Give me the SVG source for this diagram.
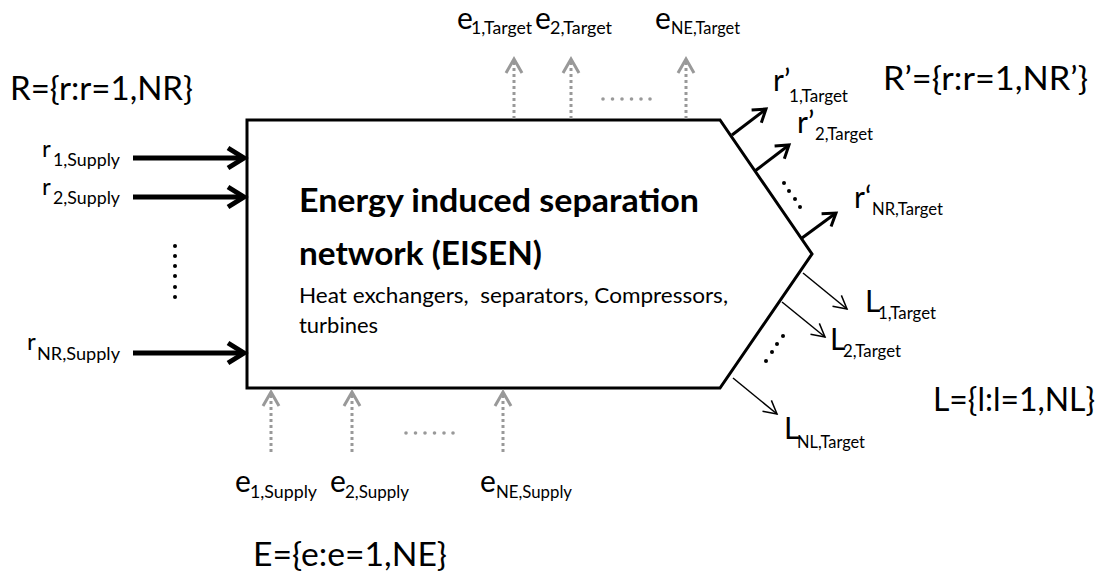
<svg xmlns="http://www.w3.org/2000/svg" width="1107" height="571" viewBox="0 0 1107 571">
<style>
text{font-family:Lato,"Open Sans","Liberation Sans",sans-serif;fill:#000}
.m{font-size:30px}
.ml{font-size:24px}
.s{font-size:18px}
.sl{font-size:17px}
.set{font-size:32px}
.t{font-size:33px;font-weight:bold}
.d{font-size:21px}
.thick{stroke:#000;stroke-width:5;fill:none}
.med{stroke:#000;stroke-width:3;fill:none}
.thin{stroke:#000;stroke-width:1.5;fill:none}
.gray{stroke:#999;stroke-width:3;fill:none;stroke-dasharray:3 3}
.dot{fill:#000}
.gdot{fill:#999}
</style>
<defs>
<marker id="hThick" markerUnits="userSpaceOnUse" orient="auto" refX="0" refY="0" markerWidth="40" markerHeight="40" overflow="visible"><path d="M-16,-10 L0,0 L-16,10" stroke="#000" stroke-width="5" fill="none"/></marker>
<marker id="hMed" markerUnits="userSpaceOnUse" orient="auto" refX="0" refY="0" markerWidth="40" markerHeight="40" overflow="visible"><path d="M-12,-8 L0,0 L-12,8" stroke="#000" stroke-width="3" fill="none"/></marker>
<marker id="hThin" markerUnits="userSpaceOnUse" orient="auto" refX="0" refY="0" markerWidth="40" markerHeight="40" overflow="visible"><path d="M-13,-7 L0,0 L-13,7" stroke="#000" stroke-width="1.5" fill="none"/></marker>
<marker id="hGray" markerUnits="userSpaceOnUse" orient="auto" refX="0" refY="0" markerWidth="40" markerHeight="40" overflow="visible"><path d="M-14,-8 L0,0 L-14,8" stroke="#999" stroke-width="3" fill="none"/></marker>
</defs>

<g id="eisen">
<path d="M247,120 H720 L812,254 L720,388 H247 Z" fill="#fff" stroke="#000" stroke-width="3" stroke-linejoin="miter"/>
<text class="t" x="299" y="212" textLength="400" lengthAdjust="spacingAndGlyphs">Energy induced separation</text>
<text class="t" x="299" y="265" textLength="243" lengthAdjust="spacingAndGlyphs">network (EISEN)</text>
<text class="d" x="299" y="303" textLength="429" lengthAdjust="spacingAndGlyphs" xml:space="preserve">Heat exchangers,  separators, Compressors,</text>
<text class="d" x="299" y="333" textLength="79" lengthAdjust="spacingAndGlyphs">turbines</text>
</g>

<g id="connectors">
<line class="thick" x1="133" y1="158" x2="244" y2="158" marker-end="url(#hThick)"/>
<line class="thick" x1="133" y1="197" x2="244" y2="197" marker-end="url(#hThick)"/>
<line class="thick" x1="133" y1="353" x2="244" y2="353" marker-end="url(#hThick)"/>
<line class="gray" x1="514" y1="119" x2="514" y2="59" marker-end="url(#hGray)"/>
<line class="gray" x1="571" y1="119" x2="571" y2="59" marker-end="url(#hGray)"/>
<line class="gray" x1="686" y1="119" x2="686" y2="59" marker-end="url(#hGray)"/>
<line class="gray" x1="271" y1="452" x2="271" y2="392" marker-end="url(#hGray)"/>
<line class="gray" x1="352" y1="452" x2="352" y2="392" marker-end="url(#hGray)"/>
<line class="gray" x1="503" y1="452" x2="503" y2="392" marker-end="url(#hGray)"/>
<line class="med" x1="732" y1="135" x2="766" y2="109" marker-end="url(#hMed)"/>
<line class="med" x1="755" y1="171" x2="789" y2="145" marker-end="url(#hMed)"/>
<line class="med" x1="802" y1="238" x2="836" y2="213" marker-end="url(#hMed)"/>
<line class="thin" x1="803" y1="273" x2="847" y2="309" marker-end="url(#hThin)"/>
<line class="thin" x1="782" y1="302" x2="825" y2="337" marker-end="url(#hThin)"/>
<line class="thin" x1="733" y1="378" x2="777" y2="414" marker-end="url(#hThin)"/>
</g>

<g id="ellipses">
<circle class="dot" cx="175" cy="246" r="2"/>
<circle class="dot" cx="175" cy="256" r="2"/>
<circle class="dot" cx="175" cy="266" r="2"/>
<circle class="dot" cx="175" cy="276" r="2"/>
<circle class="dot" cx="175" cy="287" r="2"/>
<circle class="dot" cx="175" cy="297" r="2"/>
<circle class="dot" cx="784" cy="183" r="2"/>
<circle class="dot" cx="789" cy="191" r="2"/>
<circle class="dot" cx="795" cy="199" r="2"/>
<circle class="dot" cx="800" cy="207" r="2"/>
<circle class="dot" cx="783" cy="336" r="2"/>
<circle class="dot" cx="777" cy="344" r="2"/>
<circle class="dot" cx="772" cy="352" r="2"/>
<circle class="dot" cx="766" cy="361" r="2"/>
<circle class="gdot" cx="603" cy="99" r="1.8"/>
<circle class="gdot" cx="612.5" cy="99" r="1.8"/>
<circle class="gdot" cx="622" cy="99" r="1.8"/>
<circle class="gdot" cx="631.5" cy="99" r="1.8"/>
<circle class="gdot" cx="641" cy="99" r="1.8"/>
<circle class="gdot" cx="650" cy="99" r="1.8"/>
<circle class="gdot" cx="406" cy="433" r="1.8"/>
<circle class="gdot" cx="415.5" cy="433" r="1.8"/>
<circle class="gdot" cx="425" cy="433" r="1.8"/>
<circle class="gdot" cx="434.5" cy="433" r="1.8"/>
<circle class="gdot" cx="444" cy="433" r="1.8"/>
<circle class="gdot" cx="453" cy="433" r="1.8"/>
</g>

<g id="sets">
<text class="set" x="10" y="100" textLength="183" lengthAdjust="spacingAndGlyphs">R={r:r=1,NR}</text>
<text class="set" x="883" y="90" textLength="205" lengthAdjust="spacingAndGlyphs">R’={r:r=1,NR’}</text>
<text class="set" x="933" y="411" textLength="162" lengthAdjust="spacingAndGlyphs">L={l:l=1,NL}</text>
<text class="set" x="253" y="566" textLength="194" lengthAdjust="spacingAndGlyphs">E={e:e=1,NE}</text>
</g>

<g id="supply-streams">
<text class="ml" x="42" y="157">r<tspan class="sl" x="53" dy="9" textLength="67" lengthAdjust="spacingAndGlyphs">1,Supply</tspan></text>
<text class="ml" x="42" y="195">r<tspan class="sl" x="53" dy="9" textLength="67" lengthAdjust="spacingAndGlyphs">2,Supply</tspan></text>
<text class="ml" x="27" y="350">r<tspan class="sl" x="37" dy="10" textLength="83" lengthAdjust="spacingAndGlyphs">NR,Supply</tspan></text>
</g>

<g id="target-streams">
<text class="m" x="773" y="91">r’<tspan class="s" x="789" dy="11" textLength="59" lengthAdjust="spacingAndGlyphs">1,Target</tspan></text>
<text class="m" x="797" y="133">r’<tspan class="s" x="815" dy="7" textLength="58" lengthAdjust="spacingAndGlyphs">2,Target</tspan></text>
<text class="m" x="854" y="208">r‘<tspan class="s" x="872" dy="7" textLength="71" lengthAdjust="spacingAndGlyphs">NR,Target</tspan></text>
</g>

<g id="losses">
<text class="m" x="865" y="312">L<tspan class="s" x="878" dy="7" textLength="58" lengthAdjust="spacingAndGlyphs">1,Target</tspan></text>
<text class="m" x="830" y="350">L<tspan class="s" x="843" dy="7" textLength="58" lengthAdjust="spacingAndGlyphs">2,Target</tspan></text>
<text class="m" x="784" y="439">L<tspan class="s" x="797" dy="9" textLength="68" lengthAdjust="spacingAndGlyphs">NL,Target</tspan></text>
</g>

<g id="energy-targets">
<text class="m" x="457" y="29">e<tspan class="s" x="471" dy="5" textLength="61" lengthAdjust="spacingAndGlyphs">1,Target</tspan></text>
<text class="m" x="535" y="29">e<tspan class="s" x="550" dy="5" textLength="62" lengthAdjust="spacingAndGlyphs">2,Target</tspan></text>
<text class="m" x="655" y="29">e<tspan class="s" x="671" dy="5" textLength="69" lengthAdjust="spacingAndGlyphs">NE,Target</tspan></text>
</g>

<g id="energy-supplies">
<text class="m" x="235" y="492">e<tspan class="s" x="250" dy="6" textLength="67" lengthAdjust="spacingAndGlyphs">1,Supply</tspan></text>
<text class="m" x="330" y="492">e<tspan class="s" x="345" dy="6" textLength="64" lengthAdjust="spacingAndGlyphs">2,Supply</tspan></text>
<text class="m" x="480" y="492">e<tspan class="s" x="496" dy="6" textLength="76" lengthAdjust="spacingAndGlyphs">NE,Supply</tspan></text>
</g>
</svg>
